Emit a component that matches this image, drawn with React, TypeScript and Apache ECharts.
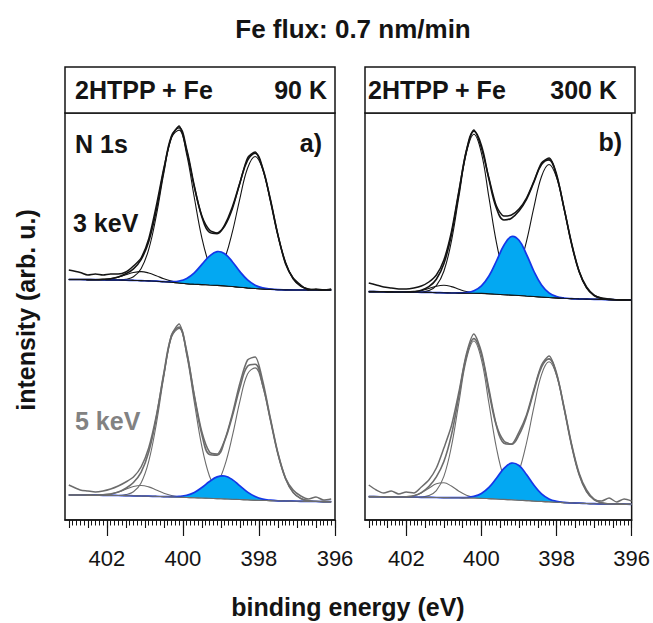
import React, { useEffect, useRef } from "react";
import * as echarts from "echarts";

const FONT = '"Liberation Sans", Arial, Helvetica, sans-serif';

// binding energies (eV) sampled in each panel
const energiesA = [403.0, 402.7, 402.5, 402.3, 402.1, 401.9, 401.7, 401.5, 401.3, 401.1, 400.9, 400.7, 400.5, 400.3, 400.1, 399.9, 399.7, 399.5, 399.3, 399.1, 398.9, 398.7, 398.5, 398.3, 398.1, 397.9, 397.7, 397.5, 397.3, 397.1, 396.9, 396.7, 396.5, 396.3, 396.1];
const energiesB = [403.0, 402.8, 402.6, 402.4, 402.2, 402.0, 401.8, 401.6, 401.4, 401.2, 401.0, 400.8, 400.6, 400.4, 400.2, 400.0, 399.8, 399.6, 399.4, 399.2, 399.0, 398.8, 398.6, 398.4, 398.2, 398.0, 397.8, 397.6, 397.4, 397.2, 397.0, 396.8, 396.6, 396.4, 396.2, 396.0];

const majorTicks = [402, 400, 398, 396];

// ---- panel a) 90 K, 3 keV (offset upward) ----
const a3Background = [240.5, 240.5, 240.4, 240.3, 240.2, 240.1, 240.0, 239.8, 239.6, 239.4, 239.1, 238.8, 238.3, 237.7, 237.0, 236.3, 235.8, 235.4, 235.0, 234.6, 234.1, 233.5, 232.8, 232.1, 231.5, 231.0, 230.6, 230.3, 230.1, 230.0, 230.0, 230.0, 230.0, 230.0, 230.0];
const a3Peak400 = [0, 0, 0, 0, 0, 0, 0, 0.9, 3.6, 11.9, 31.3, 65.3, 108.9, 144.5, 152.9, 129.0, 86.7, 46.5, 19.9, 6.8, 1.8, 0.4, 0, 0, 0, 0, 0, 0, 0, 0, 0, 0, 0, 0, 0];
const a3Peak398 = [0, 0, 0, 0, 0, 0, 0, 0, 0, 0, 0, 0, 0, 0, 0, 0, 0.2, 1.0, 3.8, 11.2, 27.2, 54.3, 88.9, 119.6, 132.0, 119.6, 88.9, 54.3, 27.2, 11.2, 3.8, 1.0, 0.2, 0, 0];
const a3PeakFe = [0, 0, 0, 0, 0, 0, 0, 0, 0, 0, 0, 0, 0, 0.6, 2.0, 5.3, 11.4, 20.2, 28.9, 33.8, 32.1, 24.8, 15.6, 8.0, 3.3, 1.1, 0.3, 0, 0, 0, 0, 0, 0, 0, 0];
const a3Peak401 = [0, 0, 0, 0, 0.4, 1.2, 2.9, 5.5, 7.9, 9.0, 7.9, 5.5, 2.9, 1.2, 0.4, 0, 0, 0, 0, 0, 0, 0, 0, 0, 0, 0, 0, 0, 0, 0, 0, 0, 0, 0, 0];
const a3Raw = [250, 247.5, 245, 246, 245, 246, 246, 248, 254, 262, 281, 314, 352, 383, 394, 369, 333, 304, 290, 287, 294, 311, 337, 362, 368, 351, 321, 285, 256, 242, 235, 230, 231, 230, 231];

// ---- panel a) 90 K, 5 keV ----
const a5Background = [25, 25, 24.9, 24.8, 24.7, 24.6, 24.5, 24.4, 24.2, 24.0, 23.8, 23.6, 23.4, 23.1, 22.8, 22.5, 22.2, 22.0, 21.7, 21.4, 21.1, 20.8, 20.5, 20.2, 19.9, 19.6, 19.4, 19.2, 19.0, 18.8, 18.7, 18.6, 18.5, 18.4, 18.3];
const a5Peak400 = [0, 0, 0, 0, 0, 0, 0, 1.0, 4.0, 13.1, 34.6, 72.1, 120.2, 159.5, 168.8, 142.4, 95.7, 51.3, 22.0, 7.5, 2.0, 0.4, 0, 0, 0, 0, 0, 0, 0, 0, 0, 0, 0, 0, 0];
const a5Peak398 = [0, 0, 0, 0, 0, 0, 0, 0, 0, 0, 0, 0, 0, 0, 0, 0, 0.4, 1.5, 5.1, 14.3, 33.2, 63.0, 98.3, 125.8, 132.2, 114.0, 80.7, 46.8, 22.3, 8.7, 2.8, 0.7, 0.2, 0, 0];
const a5PeakFe = [0, 0, 0, 0, 0, 0, 0, 0, 0, 0, 0, 0, 0, 0.2, 0.8, 2.2, 5.4, 10.5, 16.8, 21.7, 22.9, 19.6, 13.6, 7.7, 3.6, 1.3, 0.4, 0, 0, 0, 0, 0, 0, 0, 0];
const a5Peak401 = [0, 0, 0, 0, 0.5, 1.4, 3.4, 6.4, 9.3, 10.5, 9.3, 6.4, 3.4, 1.4, 0.5, 0, 0, 0, 0, 0, 0, 0, 0, 0, 0, 0, 0, 0, 0, 0, 0, 0, 0, 0, 0];
const a5Raw = [35, 30, 29, 28, 29, 31, 34, 38, 43, 53, 72, 104, 146, 185, 196, 169, 125, 88, 68, 66, 80, 106, 137, 160, 163, 139, 102, 67, 42, 30, 24, 21, 23, 20, 21];

// ---- panel b) 300 K, 3 keV ----
const b3Background = [228.4, 228.3, 228.2, 228.1, 228.0, 227.9, 227.8, 227.7, 227.6, 227.4, 227.2, 227.0, 226.9, 226.8, 226.7, 226.6, 226.2, 225.8, 225.3, 224.9, 224.5, 224.0, 223.5, 223.0, 222.5, 222.1, 221.7, 221.4, 221.1, 220.9, 220.7, 220.5, 220.4, 220.2, 220.1, 220.0];
const b3Peak400 = [0, 0, 0, 0, 0, 0, 0, 0.3, 1.8, 7.0, 21.5, 51.6, 96.4, 140.3, 159.0, 140.3, 96.4, 51.6, 21.5, 7.0, 1.8, 0.3, 0, 0, 0, 0, 0, 0, 0, 0, 0, 0, 0, 0, 0, 0];
const b3Peak398 = [0, 0, 0, 0, 0, 0, 0, 0, 0, 0, 0, 0, 0, 0, 0, 0, 0.2, 1.1, 3.8, 11.3, 27.4, 54.7, 89.6, 120.5, 133.0, 120.5, 89.6, 54.7, 27.4, 11.3, 3.8, 1.1, 0.2, 0, 0, 0];
const b3PeakFe = [0, 0, 0, 0, 0, 0, 0, 0, 0, 0, 0, 0, 0.2, 0.7, 2.6, 7.6, 17.8, 33.2, 49.4, 58.6, 55.3, 41.7, 25.0, 12.0, 4.6, 1.4, 0.3, 0, 0, 0, 0, 0, 0, 0, 0, 0];
const b3Peak401 = [0, 0, 0, 0, 0, 0.1, 0.6, 1.7, 3.9, 6.4, 7.5, 6.4, 3.9, 1.7, 0.6, 0.1, 0, 0, 0, 0, 0, 0, 0, 0, 0, 0, 0, 0, 0, 0, 0, 0, 0, 0, 0, 0];
const b3Raw = [237, 235, 233, 232, 231, 231, 232, 234, 238, 245, 260, 288, 329, 369, 390, 372, 342, 314, 304, 305, 311, 322, 339, 357, 362, 346, 312, 277, 249, 233, 225, 222, 221, 220, 220, 220];

// ---- panel b) 300 K, 5 keV ----
const b5Background = [23.4, 23.3, 23.2, 23.1, 23.0, 22.9, 22.8, 22.7, 22.6, 22.5, 22.4, 22.3, 22.2, 22.1, 22.0, 21.8, 21.4, 21.0, 20.6, 20.2, 19.8, 19.4, 19.0, 18.6, 18.2, 17.8, 17.4, 17.1, 16.8, 16.5, 16.3, 16.1, 16.0, 15.9, 15.8, 15.7];
const b5Peak400 = [0, 0, 0, 0, 0, 0, 0, 0.3, 1.8, 6.9, 21.2, 51.0, 95.2, 138.5, 157.0, 138.5, 95.2, 51.0, 21.2, 6.9, 1.8, 0.3, 0, 0, 0, 0, 0, 0, 0, 0, 0, 0, 0, 0, 0, 0];
const b5Peak398 = [0, 0, 0, 0, 0, 0, 0, 0, 0, 0, 0, 0, 0, 0, 0, 0, 0.2, 1.2, 4.0, 11.9, 28.8, 57.6, 94.3, 126.8, 140.0, 126.8, 94.3, 57.6, 28.8, 11.9, 4.0, 1.2, 0.2, 0, 0, 0];
const b5PeakFe = [0, 0, 0, 0, 0, 0, 0, 0, 0, 0, 0, 0, 0.1, 0.4, 1.6, 4.8, 11.2, 20.8, 31.0, 36.7, 34.7, 26.1, 15.7, 7.5, 2.9, 0.9, 0.2, 0, 0, 0, 0, 0, 0, 0, 0, 0];
const b5Peak401 = [0, 0, 0, 0, 0, 0.4, 1.5, 4.4, 9.1, 13.7, 14.8, 11.6, 6.6, 2.7, 0.8, 0.2, 0, 0, 0, 0, 0, 0, 0, 0, 0, 0, 0, 0, 0, 0, 0, 0, 0, 0, 0, 0];
const b5Raw = [35, 30, 27, 29, 26, 28, 27, 33, 40, 52, 72, 94, 128, 166, 186, 168, 131, 95, 79, 76, 88, 105, 131, 155, 164, 147, 113, 76, 47, 30, 21, 19, 22, 18, 21, 19];

const BLUE_FILL = "#03a8f2";
const BLUE_LINE = "#1536e8";
const BLACK = "#141414";
const GRAY = "#6c6c6c";

type Spectrum = {
  xs: number[];
  bg: number[];
  p400: number[];
  p398: number[];
  fe: number[];
  p401: number[];
  raw: number[];
};

const spectra: { key: string; panel: number; color: string; s: Spectrum }[] = [
  { key: "a3", panel: 0, color: BLACK, s: { xs: energiesA, bg: a3Background, p400: a3Peak400, p398: a3Peak398, fe: a3PeakFe, p401: a3Peak401, raw: a3Raw } },
  { key: "a5", panel: 0, color: GRAY, s: { xs: energiesA, bg: a5Background, p400: a5Peak400, p398: a5Peak398, fe: a5PeakFe, p401: a5Peak401, raw: a5Raw } },
  { key: "b3", panel: 1, color: BLACK, s: { xs: energiesB, bg: b3Background, p400: b3Peak400, p398: b3Peak398, fe: b3PeakFe, p401: b3Peak401, raw: b3Raw } },
  { key: "b5", panel: 1, color: GRAY, s: { xs: energiesB, bg: b5Background, p400: b5Peak400, p398: b5Peak398, fe: b5PeakFe, p401: b5Peak401, raw: b5Raw } },
];

const sum = (base: number[], ...parts: number[][]) =>
  base.map((v, i) => Math.round((v + parts.reduce((acc, p) => acc + p[i], 0)) * 100) / 100);
const pairs = (xs: number[], ys: number[]) => xs.map((x, i) => [x, ys[i]]);

const SMOOTH = 0.4;

function seriesFor(key: string, panel: number, color: string, s: Spectrum) {
  const xAxisIndex = panel * 3;
  const yAxisIndex = panel;
  const base: any = {
    type: "line",
    xAxisIndex,
    yAxisIndex,
    symbol: "none",
    showSymbol: false,
    smooth: SMOOTH,
    silent: true,
    z: 2,
  };
  const feTop = sum(s.bg, s.fe);
  const comp = (name: string, ys: number[]) => ({
    ...base,
    name: key + " " + name,
    data: pairs(s.xs, sum(s.bg, ys)),
    lineStyle: { color, width: 1.1 },
  });
  return [
    comp("N 401", s.p401),
    comp("N 400", s.p400),
    comp("N 398", s.p398),
    {
      type: "custom",
      name: key + " Fe-N",
      xAxisIndex,
      yAxisIndex,
      silent: true,
      z: 3,
      data: [[399, 0]],
      renderItem: (_params: any, api: any) => {
        const top = s.xs.map((x, i) => api.coord([x, feTop[i]]));
        const bottom = s.xs.map((x, i) => api.coord([x, s.bg[i]])).reverse();
        return {
          type: "group",
          children: [
            { type: "polygon", z2: 1, shape: { points: top.concat(bottom), smooth: SMOOTH }, style: { fill: BLUE_FILL, stroke: null } },
            { type: "polyline", z2: 2, shape: { points: top, smooth: SMOOTH }, style: { fill: null, stroke: BLUE_LINE, lineWidth: 1.7 } },
          ],
        };
      },
    },
    { ...base, z: 4, name: key + " background", data: pairs(s.xs, s.bg), lineStyle: { color, width: 1.1 } },
    { ...base, z: 4, name: key + " fit", data: pairs(s.xs, sum(s.bg, s.p401, s.p400, s.p398, s.fe)), lineStyle: { color, width: 1.6 } },
    { ...base, z: 4, name: key + " data", smooth: 0.25, data: pairs(s.xs, s.raw), lineStyle: { color, width: 1.5 } },
  ];
}

const halfTicks: number[] = [];
for (let k = 0; k <= 14; k++) halfTicks.push(396 + k * 0.5);
const tenthTicks: number[] = [];
for (let k = 0; k <= 70; k++) tenthTicks.push(Math.round((396 + k * 0.1) * 10) / 10);

function xAxesFor(gridIndex: number) {
  const common = { type: "value", gridIndex, min: 396, max: 403.1, inverse: true, position: "bottom", splitLine: { show: false } };
  return [
    {
      ...common,
      interval: 2,
      axisLine: { show: true, lineStyle: { color: BLACK, width: 1.5 } },
      axisTick: { show: true, length: 16, customValues: majorTicks, lineStyle: { color: BLACK, width: 1.2 } },
      axisLabel: { show: true, customValues: majorTicks, margin: 27, fontSize: 22, color: BLACK, fontFamily: FONT, formatter: (v: number) => String(v) },
    },
    {
      ...common,
      axisLine: { show: false },
      axisTick: { show: true, length: 8, customValues: halfTicks, lineStyle: { color: BLACK, width: 1.1 } },
      axisLabel: { show: false },
    },
    {
      ...common,
      axisLine: { show: false },
      axisTick: { show: true, length: 5.5, customValues: tenthTicks, lineStyle: { color: BLACK, width: 1 } },
      axisLabel: { show: false },
    },
  ];
}

const boldText = (text: string, x: number, y: number, align: string, size = 25, fill = BLACK, extra: any = {}) => ({
  type: "text",
  x,
  y,
  z: 100,
  ...extra,
  style: {
    text,
    font: `bold ${size}px ${FONT}`,
    fill,
    align,
    verticalAlign: "middle",
    textAlign: align,
    textVerticalAlign: "middle",
  },
});

export default function App() {
  const ref = useRef<HTMLDivElement>(null);
  useEffect(() => {
    document.body.style.margin = "0";
    if (!ref.current) return;
    const chart = echarts.init(ref.current, undefined, { renderer: "svg" });
    const option: any = {
      animation: false,
      backgroundColor: "#ffffff",
      grid: [
        { left: 65, top: 113, width: 270, height: 407, show: true, borderColor: BLACK, borderWidth: 1.5, backgroundColor: "transparent" },
        { left: 365, top: 113, width: 270, height: 407, show: true, borderColor: BLACK, borderWidth: 1.5, backgroundColor: "transparent" },
      ],
      xAxis: [...xAxesFor(0), ...xAxesFor(1)],
      yAxis: [
        { type: "value", gridIndex: 0, min: 0, max: 407, show: false, splitLine: { show: false } },
        { type: "value", gridIndex: 1, min: 0, max: 407, show: false, splitLine: { show: false } },
      ],
      series: spectra.flatMap((sp) => seriesFor(sp.key, sp.panel, sp.color, sp.s)),
      graphic: [
        boldText("Fe flux: 0.7 nm/min", 353, 29, "center", 26),
        { type: "rect", z: 90, shape: { x: 65, y: 67, width: 270, height: 46 }, style: { fill: "#fff", stroke: BLACK, lineWidth: 1.5 } },
        { type: "rect", z: 90, shape: { x: 365, y: 67, width: 270, height: 46 }, style: { fill: "#fff", stroke: BLACK, lineWidth: 1.5 } },
        boldText("2HTPP + Fe", 75, 90, "left"),
        boldText("90 K", 327, 90, "right"),
        boldText("2HTPP + Fe", 368, 90, "left"),
        boldText("300 K", 617, 90, "right"),
        boldText("N 1s", 75, 144, "left"),
        boldText("a)", 322, 143, "right"),
        boldText("b)", 622, 142, "right"),
        boldText("3 keV", 73, 223, "left"),
        boldText("5 keV", 75, 421, "left", 25, "#828282"),
        boldText("intensity (arb. u.)", 26, 310, "center", 25, BLACK, { rotation: Math.PI / 2 }),
        boldText("binding energy (eV)", 348, 607, "center", 25),
      ],
    };
    chart.setOption(option);
    return () => chart.dispose();
  }, []);
  return <div ref={ref} style={{ width: 653, height: 623 }} />;
}
